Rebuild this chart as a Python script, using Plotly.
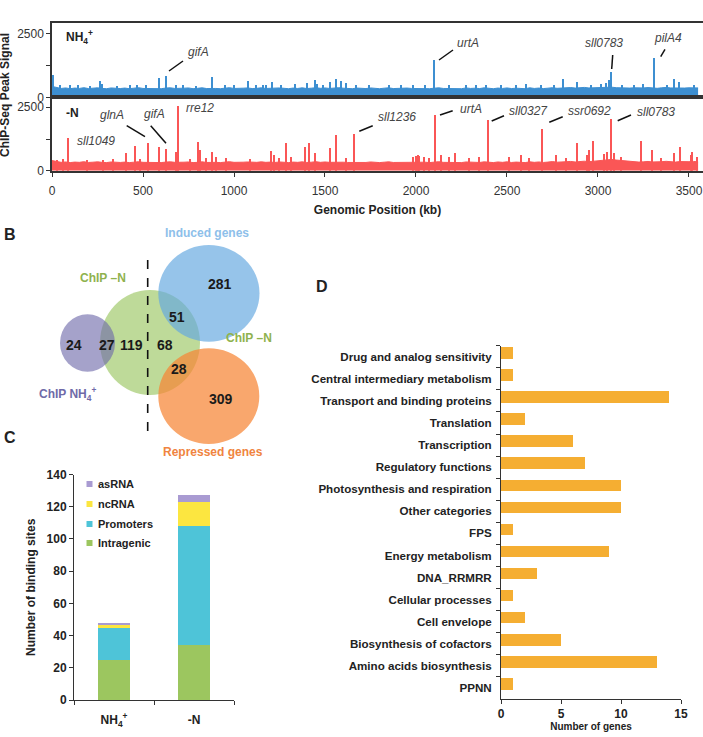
import plotly.graph_objects as go

W, H = 703, 737
def X(px): return px / W
def Y(py): return 1 - py / H

FONT = "Liberation Sans, Arial, sans-serif"

# ---------------- Panel A data (ChIP-seq peak signal) ----------------
baseline_kb = list(range(0, 3551, 25))
nh4_baseline = [430, 380, 350, 370, 340, 365, 350, 380, 345, 360, 375, 350, 340, 370, 355, 345,
                365, 340, 360, 380, 350, 345, 370, 355, 340, 365, 375, 350, 345, 360, 370, 340,
                355, 375, 345, 360, 350, 340, 365, 380, 350, 345, 360, 370, 345, 355, 375, 350,
                360, 345, 370, 355, 340, 365, 350, 375, 345, 360, 380, 355, 370, 350, 365, 380,
                360, 350, 340, 365, 355, 345, 370, 350, 340, 360, 375, 345, 355, 340, 365, 350,
                345, 370, 355, 340, 360, 375, 350, 345, 365, 355, 340, 370, 350, 360, 345, 375,
                355, 340, 365, 350, 370, 345, 360, 355, 340, 375, 350, 365, 345, 360, 380, 355,
                370, 360, 385, 365, 375, 390, 370, 380, 395, 375, 390, 400, 380, 370, 385, 365,
                375, 360, 370, 385, 365, 355, 375, 390, 370, 360, 380, 365, 375, 385, 370]
n_baseline = [400, 350, 330, 345, 320, 340, 330, 355, 325, 335, 350, 330, 320, 345, 330, 325,
              340, 320, 335, 355, 330, 325, 345, 330, 320, 340, 350, 330, 325, 335, 345, 320,
              330, 350, 325, 335, 330, 320, 340, 355, 330, 325, 335, 345, 325, 330, 350, 330,
              340, 325, 345, 330, 320, 340, 330, 350, 325, 335, 355, 330, 345, 330, 340, 350,
              335, 325, 320, 340, 330, 325, 345, 330, 320, 335, 350, 325, 330, 320, 340, 330,
              325, 345, 335, 320, 340, 355, 330, 325, 345, 335, 320, 345, 330, 340, 325, 350,
              335, 320, 345, 330, 350, 325, 340, 335, 320, 350, 330, 345, 325, 340, 360, 335,
              350, 340, 365, 345, 360, 375, 355, 370, 390, 410, 430, 445, 420, 400, 380, 360,
              355, 340, 350, 365, 345, 335, 355, 370, 350, 340, 360, 345, 355, 365, 350]

nh4_peak_kb = [7, 44, 100, 144, 208, 263, 276, 355, 428, 470, 519, 589, 629, 680, 720, 793, 880,
               949, 1000, 1077, 1123, 1160, 1174, 1211, 1260, 1333, 1403, 1448, 1457, 1488, 1525,
               1558, 1590, 1617, 1671, 1740, 1854, 1920, 1982, 2050, 2101, 2183, 2275, 2330,
               2384, 2470, 2549, 2604, 2686, 2759, 2807, 2887, 2960, 3015, 3042, 3058, 3072,
               3130, 3198, 3250, 3307, 3381, 3418, 3448, 3527]
nh4_peak_signal = [870, 480, 500, 470, 460, 635, 540, 450, 480, 490, 470, 760, 834, 500, 480, 460, 794,
                   470, 500, 640, 500, 476, 470, 600, 490, 516, 568, 670, 520, 500, 600,
                   742, 650, 568, 470, 480, 470, 490, 480, 490, 1469, 480, 470, 500,
                   480, 490, 470, 520, 470, 500, 715, 608, 490, 520, 560, 700, 1005,
                   500, 480, 510, 1536, 500, 710, 608, 480]

n_peak_kb = [26, 62, 89, 190, 282, 337, 405, 457, 483, 530, 589, 629, 680, 693, 757, 803, 812,
             848, 880, 903, 958, 1086, 1204, 1221, 1250, 1288, 1314, 1393, 1415, 1446, 1525,
             1558, 1617, 1658, 1982, 2000, 2010, 2019, 2046, 2073, 2103, 2137, 2183, 2216,
             2293, 2348, 2396, 2513, 2577, 2622, 2694, 2768, 2823, 2885, 2942, 2951, 2974,
             3033, 3048, 3074, 3088, 3124, 3238, 3296, 3344, 3418, 3449, 3509, 3518, 3546]
n_peak_signal = [430, 450, 1276, 420, 430, 470, 685, 973, 480, 1103, 946, 855, 725, 2549, 480, 1143, 815,
                 500, 749, 560, 520, 480, 788, 618, 520, 1080, 540, 922, 1080, 690, 906,
                 1407, 520, 1440, 560, 591, 620, 591, 560, 520, 2195, 600, 540, 709,
                 520, 560, 1998, 540, 618, 520, 1655, 620, 520, 1080, 600, 815, 1182,
                 640, 749, 2025, 700, 560, 1182, 815, 520, 709, 946, 600, 749, 560]

genome_ticks = [0, 500, 1000, 1500, 2000, 2500, 3000, 3500]

# ---------------- Panel C data ----------------
conditions = ["NH<sub>4</sub><sup>+</sup>", "-N"]
site_types = ["Intragenic", "Promoters", "ncRNA", "asRNA"]
site_counts = {
    "Intragenic": [25, 34],
    "Promoters": [20, 74],
    "ncRNA": [2, 15],
    "asRNA": [1, 4],
}
site_colors = {"Intragenic": "#9cc65f", "Promoters": "#4ec4d8",
               "ncRNA": "#fce640", "asRNA": "#a99bd2"}

# ---------------- Panel D data ----------------
categories = ["Drug and analog sensitivity", "Central intermediary metabolism",
              "Transport and binding proteins", "Translation", "Transcription",
              "Regulatory functions", "Photosynthesis and respiration", "Other categories",
              "FPS", "Energy metabolism", "DNA_RRMRR", "Cellular processes", "Cell envelope",
              "Biosynthesis of cofactors", "Amino acids biosynthesis", "PPNN"]
gene_counts = [1, 1, 14, 2, 6, 7, 10, 10, 1, 9, 3, 1, 2, 5, 13, 1]

# ---------------- Panel B data (Venn) ----------------
venn_numbers = ["24", "27", "119", "68", "51", "281", "28", "309"]

BLUE = "#3d8fd1"
RED = "#fa5656"

fig = go.Figure()

# Panel A traces
fig.add_trace(go.Bar(x=nh4_peak_kb, y=nh4_peak_signal, width=6, marker=dict(color=BLUE, line=dict(width=0)),
                     xaxis="x", yaxis="y", showlegend=False))
fig.add_trace(go.Scatter(x=baseline_kb, y=nh4_baseline, mode="lines", fill="tozeroy",
                         line=dict(color=BLUE, width=1), fillcolor=BLUE,
                         xaxis="x", yaxis="y", showlegend=False))
fig.add_trace(go.Bar(x=n_peak_kb, y=n_peak_signal, width=6, marker=dict(color=RED, line=dict(width=0)),
                     xaxis="x2", yaxis="y2", showlegend=False))
fig.add_trace(go.Scatter(x=baseline_kb, y=n_baseline, mode="lines", fill="tozeroy",
                         line=dict(color=RED, width=1), fillcolor=RED,
                         xaxis="x2", yaxis="y2", showlegend=False))

# Panel C traces
for st in site_types:
    fig.add_trace(go.Bar(x=conditions, y=site_counts[st], name=st, width=0.39,
                         marker=dict(color=site_colors[st], line=dict(width=0)),
                         xaxis="x3", yaxis="y3", showlegend=False))

# Panel D trace
fig.add_trace(go.Bar(x=gene_counts, y=categories, orientation="h", width=0.52, offset=-0.44,
                     marker=dict(color="#f5ae32", line=dict(width=0)),
                     xaxis="x4", yaxis="y4", showlegend=False))

AX = "#333333"
bold = dict(family=FONT, size=12, color="#222", weight="bold")
reg = dict(family=FONT, size=12, color="#333")

fig.update_layout(
    width=W, height=H, margin=dict(l=0, r=0, t=0, b=0, autoexpand=False),
    paper_bgcolor="white", plot_bgcolor="white",
    barmode="stack", font=dict(family=FONT),
    xaxis=dict(domain=[X(52), 1], range=[0, 3577], showticklabels=False, ticks="",
               showline=True, mirror=True, linecolor=AX, linewidth=1.5, showgrid=False,
               zeroline=False, anchor="y", automargin=False),
    yaxis=dict(domain=[Y(97.3), Y(22.7)], range=[0, 2946], tickvals=[0, 1250, 2500],
               ticktext=["0", "", "2500"], ticks="outside", ticklen=4, tickcolor=AX,
               tickfont=reg, showline=True, mirror=False, linecolor=AX, linewidth=1.5,
               showgrid=False, zeroline=False, anchor="x", automargin=False),
    xaxis2=dict(domain=[X(52), 1], range=[0, 3577], tickvals=genome_ticks, ticks="outside",
                ticklen=5, tickcolor=AX, tickfont=reg, showline=True, mirror=True,
                linecolor=AX, linewidth=1.5, showgrid=False, zeroline=False, anchor="y2",
                ticklabelstandoff=3, automargin=False,
                title=dict(text="Genomic Position (kb)", font=bold, standoff=9)),
    yaxis2=dict(domain=[Y(170.7), Y(97.3)], range=[0, 2894], tickvals=[0, 1250, 2500],
                ticktext=["0", "", "2500"], ticks="outside", ticklen=4, tickcolor=AX,
                tickfont=reg, showline=True, mirror=False, linecolor=AX, linewidth=1.5,
                showgrid=False, zeroline=False, anchor="x2", automargin=False),
    xaxis3=dict(domain=[X(74), X(234)], type="category", range=[-0.5, 1.5],
                ticks="outside", tickson="boundaries", ticklen=4, tickcolor=AX,
                tickfont=bold, ticklabelstandoff=9, showline=True, linecolor=AX, linewidth=1,
                showgrid=False, anchor="y3", automargin=False),
    yaxis3=dict(domain=[Y(700), Y(474.5)], range=[0, 140], dtick=20, ticks="outside",
                ticklen=4, tickcolor=AX, tickfont=bold, showline=True, linecolor=AX,
                linewidth=1, showgrid=False, zeroline=False, anchor="x3", automargin=False,
                title=dict(text="Number of binding sites", font=bold, standoff=8)),
    xaxis4=dict(domain=[X(501), X(681)], range=[0, 15], tickvals=[0, 5, 10, 15],
                ticks="outside", ticklen=4, tickcolor=AX, tickfont=bold, showline=True,
                ticklabelstandoff=0, automargin=False,
                linecolor=AX, linewidth=1, showgrid=False, zeroline=False, anchor="y4",
                title=dict(text="Number of genes", font=dict(family=FONT, size=10, color="#222", weight="bold"), standoff=1)),
    yaxis4=dict(domain=[Y(699), Y(345.7)], type="category", range=[15.5, -0.5],
                ticks="outside", tickson="boundaries", ticklen=4, tickcolor=AX,
                tickfont=dict(family=FONT, size=11.6, color="#222", weight="bold"),
                ticklabelstandoff=6, automargin=False,
                showline=True, linecolor=AX, linewidth=1, showgrid=False, anchor="x4"),
)

shapes = []
annotations = []

def ann(px, py, text, font, xanchor="center", yanchor="middle", textangle=0):
    annotations.append(dict(x=X(px), y=Y(py), xref="paper", yref="paper", text=text,
                            showarrow=False, font=font, xanchor=xanchor, yanchor=yanchor,
                            textangle=textangle))

def seg(x0, y0, x1, y1, color="#111", width=1.5, dash="solid"):
    shapes.append(dict(type="line", xref="paper", yref="paper", x0=X(x0), y0=Y(y0),
                       x1=X(x1), y1=Y(y1), line=dict(color=color, width=width, dash=dash)))

# Panel A labels
ann(5, 95, "ChIP-Seq Peak Signal", bold, textangle=-90)
ann(64, 37, "NH<sub>4</sub><sup>+</sup>", bold, xanchor="left")
ann(64, 113, "-N", bold, xanchor="left")
gi = dict(family=FONT, size=12, color="#444", style="italic")
ann(198, 52, "gifA", gi); seg(169, 71, 183, 61)
ann(468, 43, "urtA", gi); seg(439, 60, 453, 50)
ann(604, 43, "sll0783", gi); seg(612.7, 55, 611.7, 69)
ann(668, 38, "pilA4", gi); seg(660.7, 56.7, 665, 49.3)
ann(96, 141, "sll1049", gi)
ann(112, 115, "glnA", gi); seg(126.7, 125.7, 145, 136.7)
ann(154, 114, "gifA", gi); seg(150.7, 125.7, 166, 143.3)
ann(200, 108, "rre12", gi)
ann(397, 117, "sll1236", gi); seg(359.3, 131.3, 372.7, 125.7)
ann(471, 109, "urtA", gi); seg(440, 115, 452.7, 110.7)
ann(528, 111, "sll0327", gi); seg(491.7, 121, 504, 115.7)
ann(589, 111, "ssr0692", gi); seg(549.3, 122.3, 562.7, 116.7)
ann(656, 112, "sll0783", gi); seg(617.7, 120.7, 631, 115)

# Panel letters
letter = dict(family=FONT, size=16, color="#222", weight="bold")
ann(10, 234, "B", letter)
ann(10, 438, "C", letter)
ann(322, 286, "D", letter)

# Panel B: Venn diagram
def ellipse(l, r, t, b, color):
    shapes.append(dict(type="circle", xref="paper", yref="paper", x0=X(l), x1=X(r),
                       y0=Y(b), y1=Y(t), fillcolor=color, line=dict(width=0), layer="above"))

ellipse(100, 200, 290, 395, "rgba(150,195,90,0.62)")
ellipse(60, 115, 314.3, 371.7, "rgba(110,105,170,0.62)")
ellipse(158.3, 259.5, 245, 341.7, "rgba(100,168,224,0.68)")
ellipse(158.3, 259.3, 348.3, 444, "rgba(247,133,52,0.72)")
seg(147.7, 260, 147.7, 431.7, color="#111", width=1.6, dash="dash")

num = dict(family=FONT, size=14, color="#1a1a1a", weight="bold")
venn_pos = [(74, 345), (107, 345), (131.7, 345), (165, 345), (176.7, 316.7), (220, 284.3),
            (179.3, 369), (220.7, 399)]
for (px, py), t in zip(venn_pos, venn_numbers):
    ann(px, py, t, num)
ann(207, 233, "Induced genes", dict(family=FONT, size=12, color="#8ec0ea", weight="bold"))
ann(103, 278, "ChIP \u2013N", dict(family=FONT, size=12, color="#8fb24e", weight="bold"))
ann(249, 338, "ChIP \u2013N", dict(family=FONT, size=12, color="#8fb24e", weight="bold"))
ann(67, 394, "ChIP NH<sub>4</sub><sup>+</sup>", dict(family=FONT, size=12, color="#6f6aa8", weight="bold"))
ann(213, 452, "Repressed genes", dict(family=FONT, size=12, color="#f08440", weight="bold"))

# Panel C legend (manual)
leg_font = dict(family=FONT, size=11, color="#222", weight="bold")
for st, py in zip(["asRNA", "ncRNA", "Promoters", "Intragenic"], [484, 504, 524, 543]):
    shapes.append(dict(type="rect", xref="paper", yref="paper", x0=X(86.5), x1=X(92.5),
                       y0=Y(py + 3), y1=Y(py - 3), fillcolor=site_colors[st], line=dict(width=0)))
    ann(96, py, st, leg_font, xanchor="left")

fig.update_layout(shapes=shapes, annotations=annotations)
fig.write_html("out.html")
